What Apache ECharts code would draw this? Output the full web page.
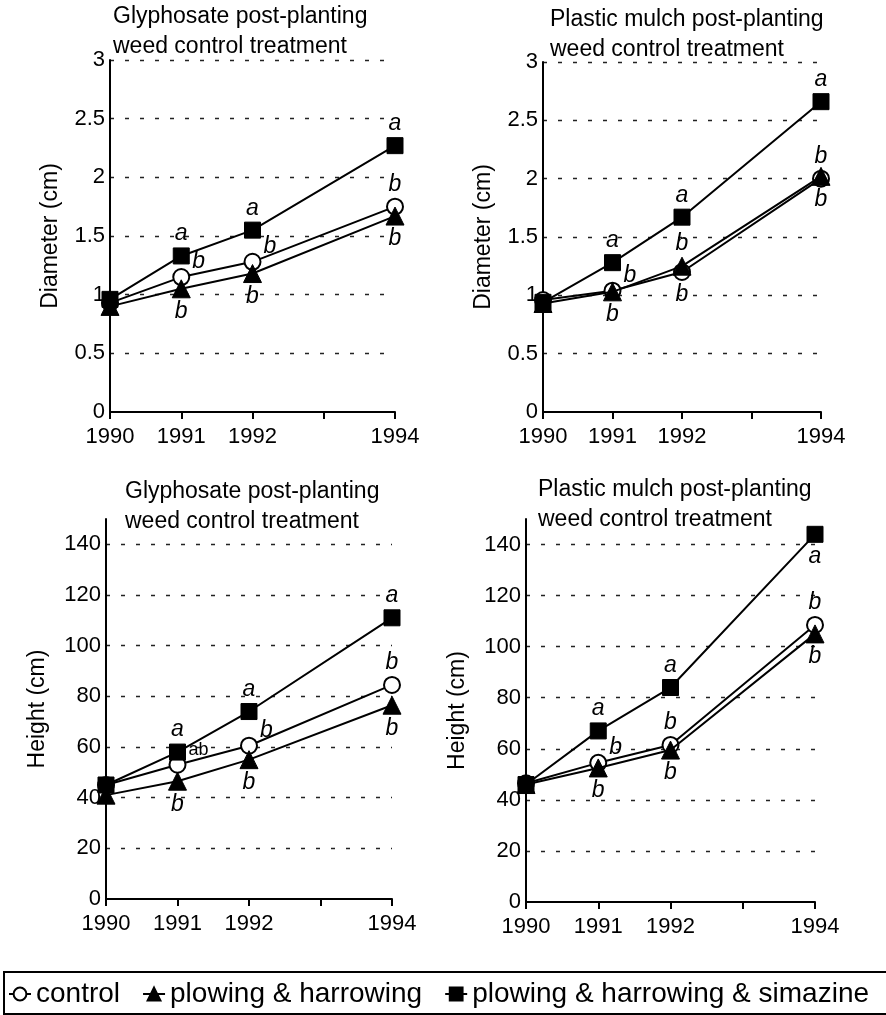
<!DOCTYPE html>
<html>
<head>
<meta charset="utf-8">
<script src="https://cdn.jsdelivr.net/npm/echarts@6/dist/echarts.min.js"></script>
<style>
html,body{margin:0;padding:0;background:#fff}
#main{width:886px;height:1015px}
</style>
</head>
<body>
<div id="main"></div>
<script>
var years = [1990, 1991, 1992, 1994];
var seriesNames = ['control', 'plowing & harrowing', 'plowing & harrowing & simazine'];
var diaTicks = [0, 0.5, 1, 1.5, 2, 2.5, 3];
var heightTicks = [0, 20, 40, 60, 80, 100, 120, 140];

// diameter, glyphosate
var diaGlyControl = [0.93, 1.15, 1.28, 1.75];
var diaGlyPlow = [0.90, 1.05, 1.18, 1.67];
var diaGlySim = [0.96, 1.33, 1.55, 2.27];
// diameter, plastic mulch
var diaPlaControl = [0.96, 1.04, 1.20, 2.00];
var diaPlaPlow = [0.93, 1.03, 1.25, 2.02];
var diaPlaSim = [0.94, 1.28, 1.67, 2.66];
// height, glyphosate
var htGlyControl = [45, 53, 60.5, 84.5];
var htGlyPlow = [41, 46.5, 55, 76.5];
var htGlySim = [45, 58, 74, 111];
// height, plastic mulch
var htPlaControl = [46.5, 54.5, 61.5, 108.5];
var htPlaPlow = [46, 52.5, 59.5, 105];
var htPlaSim = [46, 67, 84, 144];

// significance letters
var lettersGlyDia = [['', 'b', 'b', 'b'], ['', 'b', 'b', 'b'], ['', 'a', 'a', 'a']];
var lettersPlaDia = [['', 'b', 'b', 'b'], ['', 'b', 'b', 'b'], ['', 'a', 'a', 'a']];
var lettersGlyHt = [['', 'ab', 'b', 'b'], ['', 'b', 'b', 'b'], ['', 'a', 'a', 'a']];
var lettersPlaHt = [['', 'b', 'b', 'b'], ['', 'b', 'b', 'b'], ['', 'a', 'a', 'a']];

var FONT = '"Liberation Sans", Arial, Helvetica, sans-serif';
var symbols = ['circle', 'triangle', 'rect'];
var symbolSizes = [16, 18, 16];
var fills = ['#fff', '#000', '#000'];

// where each letter sits relative to its marker
var placeGlyDia = [['', 'tr', 'tr', 'top'], ['', 'bottom', 'bottom', 'bottom'], ['', 'top', 'top', 'top']];
var placePlaDia = [['', 'tr', 'bottom', 'top'], ['', 'bottom', 'top', 'bottom'], ['', 'top', 'top', 'top']];
var placeGlyHt = [['', 'tr', 'tr', 'top'], ['', 'bottom', 'bottom', 'bottom'], ['', 'top', 'top', 'top']];
var placePlaHt = [['', 'tr', 'top', 'top'], ['', 'bottom', 'bottom', 'bottom'], ['', 'top', 'top', 'bottom']];

var panels = [
  {title: 'Glyphosate post-planting\nweed control treatment', titleLeft: 113, titleTop: 2,
   yName: 'Diameter (cm)', nameGap: 48, ticks: diaTicks, yMax: 3,
   values: [diaGlyControl, diaGlyPlow, diaGlySim], letters: lettersGlyDia, place: placeGlyDia,
   grid: {left: 110, top: 60, width: 285, height: 352}},
  {title: 'Plastic mulch post-planting\nweed control treatment', titleLeft: 550, titleTop: 5,
   yName: 'Diameter (cm)', nameGap: 48, ticks: diaTicks, yMax: 3,
   values: [diaPlaControl, diaPlaPlow, diaPlaSim], letters: lettersPlaDia, place: placePlaDia,
   grid: {left: 543, top: 62, width: 278, height: 350}},
  {title: 'Glyphosate post-planting\nweed control treatment', titleLeft: 125, titleTop: 477,
   yName: 'Height (cm)', nameGap: 57, ticks: heightTicks, yMax: 150,
   values: [htGlyControl, htGlyPlow, htGlySim], letters: lettersGlyHt, place: placeGlyHt,
   grid: {left: 106, top: 519, width: 286, height: 380}},
  {title: 'Plastic mulch post-planting\nweed control treatment', titleLeft: 538, titleTop: 475,
   yName: 'Height (cm)', nameGap: 57, ticks: heightTicks, yMax: 150,
   values: [htPlaControl, htPlaPlow, htPlaSim], letters: lettersPlaHt, place: placePlaHt,
   grid: {left: 526, top: 519, width: 289, height: 383}}
];

function letterLabel(txt, where) {
  if (!txt) return {show: false};
  var lab = {
    show: true, formatter: txt, color: '#000', fontFamily: FONT,
    fontSize: txt === 'ab' ? 18 : 23, fontStyle: txt === 'ab' ? 'normal' : 'italic'
  };
  if (where === 'tr') {
    lab.position = 'right'; lab.distance = 2; lab.offset = [0, -15];
  } else if (where === 'top') {
    lab.position = 'top'; lab.distance = 2;
  } else {
    lab.position = 'bottom'; lab.distance = 2;
  }
  return lab;
}

var option = {
  backgroundColor: '#fff',
  animation: false,
  textStyle: {fontFamily: FONT, color: '#000'},
  title: [], grid: [], xAxis: [], yAxis: [], series: [],
  legend: {
    data: seriesNames, left: 8, top: 980, width: 1000, padding: 0,
    itemGap: 22, itemWidth: 22, itemHeight: 16, selectedMode: false,
    textStyle: {fontSize: 28, color: '#000', fontFamily: FONT}
  },
  graphic: [{
    type: 'rect', shape: {x: 4, y: 972, width: 900, height: 42},
    style: {fill: 'none', stroke: '#000', lineWidth: 2}
  }]
};

panels.forEach(function (p, i) {
  option.title.push({
    text: p.title, left: p.titleLeft, top: p.titleTop, padding: 0,
    textStyle: {fontSize: 23, fontWeight: 'normal', color: '#000', fontFamily: FONT, lineHeight: 30}
  });
  option.grid.push(p.grid);
  option.xAxis.push({
    gridIndex: i, type: 'value', min: 1990, max: 1994, interval: 1,
    axisLine: {lineStyle: {color: '#000', width: 2}},
    axisTick: {show: true, length: 7, lineStyle: {color: '#000', width: 2}},
    axisLabel: {
      fontSize: 22, color: '#000', margin: 14, fontFamily: FONT,
      formatter: function (v) { return years.indexOf(v) >= 0 ? String(v) : ''; }
    },
    splitLine: {show: false}
  });
  var step = p.ticks[1] - p.ticks[0];
  option.yAxis.push({
    gridIndex: i, type: 'value', min: 0, max: p.yMax, interval: step,
    name: p.yName, nameLocation: 'middle', nameGap: p.nameGap, nameRotate: 90,
    nameTextStyle: {fontSize: 23, color: '#000', fontFamily: FONT},
    axisLine: {show: true, lineStyle: {color: '#000', width: 2}},
    axisTick: {show: false},
    axisLabel: {
      fontSize: 22, color: '#000', margin: 5, fontFamily: FONT, showMaxLabel: p.ticks.indexOf(p.yMax) >= 0,
      formatter: function (v) { return p.ticks.indexOf(v) >= 0 ? String(v) : ''; }
    },
    splitLine: {show: true, showMinLine: false, showMaxLine: p.ticks.indexOf(p.yMax) >= 0,
      lineStyle: {color: '#222', width: 1.3, type: [4, 11]}}
  });
  seriesNames.forEach(function (name, s) {
    option.series.push({
      name: name, type: 'line', xAxisIndex: i, yAxisIndex: i,
      symbol: symbols[s], symbolSize: symbolSizes[s], showAllSymbol: true,
      lineStyle: {color: '#000', width: 2},
      itemStyle: {color: fills[s], borderColor: '#000', borderWidth: s === 0 ? 2 : 1},
      z: 2 + s,
      data: years.map(function (y, k) {
        return {value: [y, p.values[s][k]], label: letterLabel(p.letters[s][k], p.place[s][k])};
      })
    });
  });
});

var chart = echarts.init(document.getElementById('main'), null, {renderer: 'canvas'});
chart.setOption(option);
</script>
</body>
</html>
